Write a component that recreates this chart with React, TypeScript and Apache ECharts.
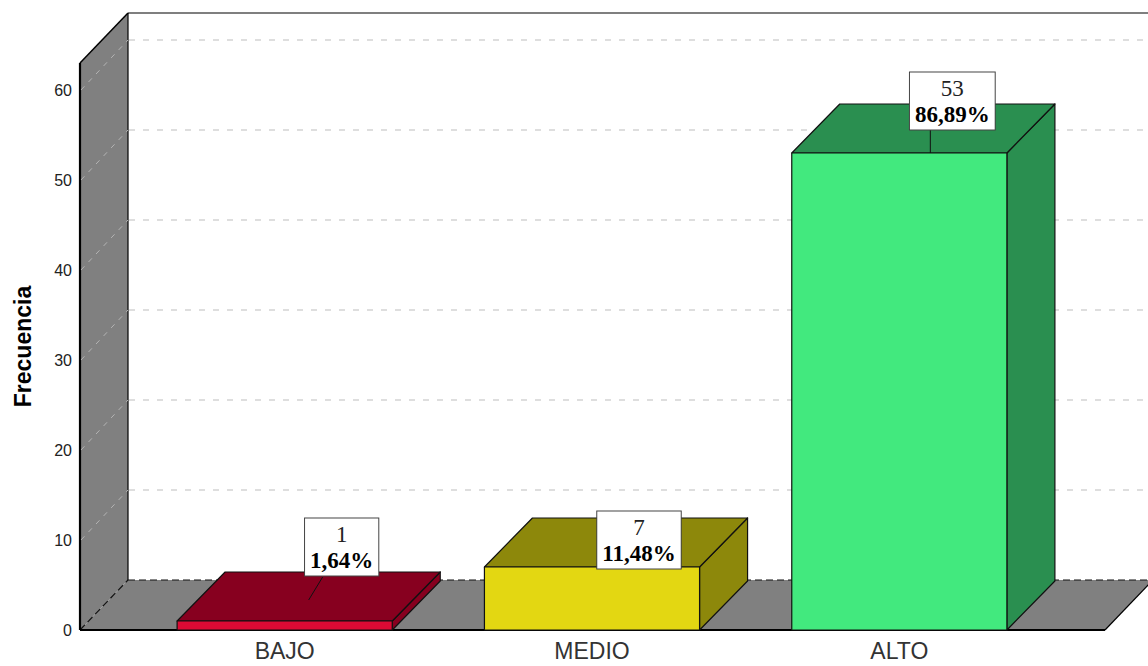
import { useEffect, useRef } from "react";
import * as echarts from "echarts";

// Frequencies per level
const categories = ["BAJO", "MEDIO", "ALTO"];
const counts = [1, 7, 53];
const yTicks = [0, 10, 20, 30, 40, 50, 60];
const yMax = 63;

// Bar face colours: front face and the shaded top/side faces
const frontColors = ["#DC0A34", "#E3D712", "#42E97E"];
const shadeColors = ["#87001F", "#8D880B", "#2A8F50"];

// Depth of the 3D projection (pixels)
const DEPTH_X = 48;
const BAR_DEPTH_Y = -49;
const WALL_DEPTH_Y = -50;
// How far the floor reaches past the category band on each side
const FLOOR_PAD_LEFT = 51;
const FLOOR_PAD_RIGHT = 52;

// Label box placement, relative to the top-front centre of each bar
const labelLayout: { box: number[]; leader: number[][] | null }[] = [
  { box: [57, -74], leader: [[38, -44], [24, -21]] },
  { box: [47, -27], leader: null },
  { box: [53, -52], leader: [[31, -23], [31, 0]] },
];

const total = counts.reduce((a, b) => a + b, 0);
const pctText = (v: number) => ((v / total) * 100).toFixed(2).replace(".", ",") + "%";

const SANS = "'Liberation Sans', Arial, sans-serif";
const SERIF = "'Liberation Serif', 'Times New Roman', serif";

export default function App() {
  const ref = useRef<HTMLDivElement>(null);

  useEffect(() => {
    if (!ref.current) return;
    const chart = echarts.init(ref.current, undefined, { renderer: "svg" });

    const frameSeries = {
      type: "custom",
      z: 1,
      clip: false,
      silent: true,
      data: yTicks.map((v) => [0, v]),
      renderItem: (params: any, api: any) => {
        const cs = params.coordSys;
        const v = api.value(1);
        const y = api.coord([0, v])[1];
        const left = cs.x - FLOOR_PAD_LEFT;
        const right = cs.x + cs.width + FLOOR_PAD_RIGHT;
        const top = cs.y;
        const bottom = cs.y + cs.height;
        const dy = WALL_DEPTH_Y;
        const bx = left + DEPTH_X;
        const farRight = right + DEPTH_X + 60;
        const children: any[] = [];
        if (params.dataIndex === 0) {
          // left wall
          children.push({
            type: "polygon",
            shape: { points: [[left, top], [bx, top + dy], [bx, bottom + dy], [left, bottom]] },
            style: { fill: "#808080" },
          });
          // floor
          children.push({
            type: "polygon",
            shape: { points: [[left, bottom], [right, bottom], [right + DEPTH_X, bottom + dy], [bx, bottom + dy]] },
            style: { fill: "#808080" },
          });
          // back wall border
          children.push({
            type: "line",
            shape: { x1: bx, y1: top + dy, x2: farRight, y2: top + dy },
            style: { stroke: "#000", lineWidth: 1.2 },
          });
          children.push({
            type: "line",
            shape: { x1: bx, y1: top + dy, x2: bx, y2: bottom + dy },
            style: { stroke: "#000", lineWidth: 1.2 },
          });
          // left wall top edge
          children.push({
            type: "line",
            shape: { x1: left, y1: top, x2: bx, y2: top + dy },
            style: { stroke: "#000", lineWidth: 1.5 },
          });
          // floor back edge and left diagonal, dashed
          children.push({
            type: "line",
            shape: { x1: bx, y1: bottom + dy, x2: farRight, y2: bottom + dy },
            style: { stroke: "#111", lineWidth: 1.2, lineDash: [7, 4] },
          });
          children.push({
            type: "line",
            shape: { x1: left, y1: bottom, x2: bx, y2: bottom + dy },
            style: { stroke: "#111", lineWidth: 1.2, lineDash: [7, 4] },
          });
          // floor right edge
          children.push({
            type: "line",
            shape: { x1: right, y1: bottom, x2: right + DEPTH_X, y2: bottom + dy },
            style: { stroke: "#000", lineWidth: 1.2 },
          });
          // front edges
          children.push({
            type: "line",
            shape: { x1: left, y1: top, x2: left, y2: bottom },
            style: { stroke: "#000", lineWidth: 2.2 },
          });
          children.push({
            type: "line",
            shape: { x1: left, y1: bottom, x2: right, y2: bottom },
            style: { stroke: "#000", lineWidth: 2.2 },
          });
        } else {
          // back wall grid line
          children.push({
            type: "line",
            shape: { x1: bx + 1, y1: y + dy, x2: farRight, y2: y + dy },
            style: { stroke: "#BDBDBD", lineWidth: 1, lineDash: [6, 8] },
          });
          // left wall grid line
          children.push({
            type: "line",
            shape: { x1: left + 1, y1: y, x2: bx, y2: y + dy },
            style: { stroke: "#B4B4B4", lineWidth: 1, lineDash: [5, 6] },
          });
        }
        return { type: "group", children };
      },
    };

    const barSeries = {
      type: "custom",
      z: 2,
      clip: false,
      silent: true,
      data: counts.map((v, i) => [i, v]),
      renderItem: (params: any, api: any) => {
        const i = params.dataIndex;
        const idx = api.value(0);
        const val = api.value(1);
        const [cx, yTop] = api.coord([idx, val]);
        const yBot = api.coord([idx, 0])[1];
        const band = api.size([1, 0])[0];
        const w = band * 0.7;
        const x0 = cx - w / 2;
        const x1 = cx + w / 2;
        const dx = DEPTH_X;
        const dy = BAR_DEPTH_Y;
        const edge = { stroke: "#111", lineWidth: 1.2, lineJoin: "round" };
        const children: any[] = [
          {
            type: "polygon",
            shape: { points: [[x1, yTop], [x1 + dx, yTop + dy], [x1 + dx, yBot + dy], [x1, yBot]] },
            style: { fill: shadeColors[i], ...edge },
          },
          {
            type: "polygon",
            shape: { points: [[x0, yTop], [x1, yTop], [x1 + dx, yTop + dy], [x0 + dx, yTop + dy]] },
            style: { fill: shadeColors[i], ...edge },
          },
          {
            type: "rect",
            shape: { x: x0, y: yTop, width: w, height: yBot - yTop },
            style: { fill: frontColors[i], ...edge },
          },
        ];
        const lay = labelLayout[i];
        if (lay.leader) {
          const [a, b] = lay.leader;
          children.push({
            type: "line",
            shape: { x1: cx + a[0], y1: yTop + a[1], x2: cx + b[0], y2: yTop + b[1] },
            style: { stroke: "#111", lineWidth: 1 },
          });
        }
        children.push({
          type: "text",
          x: cx + lay.box[0],
          y: yTop + lay.box[1],
          style: {
            text: `{a|${val}}\n{b|${pctText(val)}}`,
            align: "center",
            verticalAlign: "middle",
            backgroundColor: "#FFFFFF",
            borderColor: "#444",
            borderWidth: 1,
            padding: [3, 5, 2, 5],
            rich: {
              a: { fontFamily: SERIF, fontSize: 23, lineHeight: 26, fill: "#222", align: "center" },
              b: { fontFamily: SERIF, fontSize: 23, lineHeight: 26, fontWeight: "bold", fill: "#000", align: "center" },
            },
          },
        });
        return { type: "group", children };
      },
    };

    chart.setOption({
      animation: false,
      backgroundColor: "#FFFFFF",
      grid: { left: 131, width: 922, top: 63, bottom: 36, containLabel: false },
      xAxis: {
        type: "category",
        data: categories,
        axisLine: { show: false },
        axisTick: { show: false },
        splitLine: { show: false },
        axisLabel: { fontSize: 23, color: "#333", fontFamily: SANS, margin: 9 },
      },
      yAxis: {
        type: "value",
        min: 0,
        max: yMax,
        interval: 10,
        offset: FLOOR_PAD_LEFT,
        axisLine: { show: false },
        axisTick: { show: false },
        splitLine: { show: false },
        axisLabel: {
          fontSize: 16,
          color: "#222",
          fontFamily: SANS,
          margin: 8,
          showMaxLabel: false,
          formatter: (v: number) => (yTicks.includes(v) ? String(v) : ""),
        },
        name: "Frecuencia",
        nameLocation: "middle",
        nameRotate: 90,
        nameGap: 46,
        nameTextStyle: { fontSize: 23, fontWeight: "bold", fontFamily: SANS, color: "#000" },
      },
      series: [frameSeries, barSeries],
    });

    return () => chart.dispose();
  }, []);

  return (
    <div
      ref={ref}
      style={{ position: "fixed", left: 0, top: 0, width: 1148, height: 666, background: "#fff" }}
    />
  );
}
